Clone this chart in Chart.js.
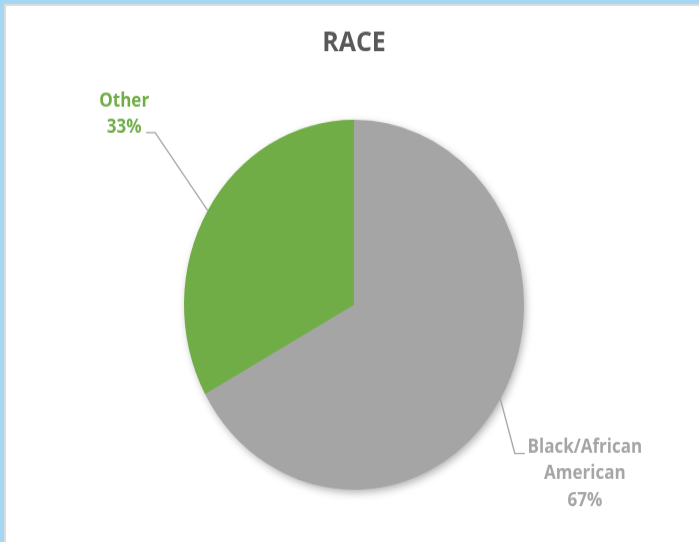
<!DOCTYPE html>
<html>
<head>
<meta charset="utf-8">
<script src="https://cdn.jsdelivr.net/npm/chart.js@4"></script>
<style>
    body { margin: 0; background: #fff; }
    #frame {
        position: absolute; left: 0; top: 0; width: 699px; height: 542px;
        box-sizing: border-box;
        border-top: 4px solid #a3d8f2; border-left: 4px solid #a3d8f2;
    }
    #frame div {
        width: 100%; height: 100%; box-sizing: border-box;
        border-top: 2px solid #dcdcdc; border-left: 2px solid #dcdcdc;
    }
    /* the picture is a little taller than wide, so stretch the whole chart */
    #wrap {
        position: absolute; left: 0; top: 0; width: 699px; height: 498px;
        transform: scaleY(1.0884); transform-origin: 0 0;
    }
</style>
</head>
<body>
<div id="frame"><div></div></div>
<div id="wrap"><canvas id="raceChart"></canvas></div>
<script>
const categories = ['Black/African American', 'Other'];
const values = [67, 33];
const colors = ['#a5a5a5', '#70ad47'];
const titleText = 'RACE';

// soft shadow under the whole pie
const pieShadow = {
    id: 'pieShadow',
    beforeDatasetsDraw(chart) {
        const arc = chart.getDatasetMeta(0).data[0];
        if (!arc) return;
        const ctx = chart.ctx;
        ctx.save();
        ctx.shadowColor = 'rgba(0,0,0,0.35)';
        ctx.shadowBlur = 9;
        ctx.shadowOffsetX = 2;
        ctx.shadowOffsetY = 3;
        ctx.fillStyle = '#a5a5a5';
        ctx.beginPath();
        ctx.arc(arc.x, arc.y, arc.outerRadius - 1, 0, Math.PI * 2);
        ctx.fill();
        ctx.restore();
    }
};

// outside labels with leader lines
const sliceLabels = {
    id: 'sliceLabels',
    afterDatasetsDraw(chart, args, opts) {
        const ctx = chart.ctx;
        const meta = chart.getDatasetMeta(0);
        const total = values.reduce((a, b) => a + b, 0);
        meta.data.forEach((arc, i) => {
            const p = opts.place[i];
            const mid = (arc.startAngle + arc.endAngle) / 2;
            const ax = arc.x + Math.cos(mid) * arc.outerRadius;
            const ay = arc.y + Math.sin(mid) * arc.outerRadius;
            const ex = ax + p.elbow[0], ey = ay + p.elbow[1];
            const lx = ex + p.tail, ly = ey;

            ctx.save();
            ctx.strokeStyle = '#a6a6a6';
            ctx.lineWidth = 1.3;
            ctx.beginPath();
            ctx.moveTo(ax, ay);
            ctx.lineTo(ex, ey);
            ctx.lineTo(lx, ly);
            ctx.stroke();

            const lines = categories[i].split(' ');
            lines.push(Math.round(values[i] / total * 100) + '%');
            ctx.fillStyle = colors[i];
            ctx.font = 'bold 17px "Open Sans"';
            ctx.textAlign = 'center';
            ctx.textBaseline = 'middle';
            const lh = 24.5;
            const cx = lx + p.text[0];
            const cy = ly + p.text[1] - (lines.length - 1) * lh / 2;
            lines.forEach((t, k) => ctx.fillText(t, cx, cy + k * lh));
            ctx.restore();
        });
    }
};

new Chart(document.getElementById('raceChart'), {
    type: 'pie',
    data: {
        labels: categories,
        datasets: [{
            data: values,
            backgroundColor: colors,
            borderWidth: 0
        }]
    },
    options: {
        responsive: true,
        maintainAspectRatio: false,
        animation: false,
        layout: { padding: { left: 184, right: 175, top: 10, bottom: 48 } },
        plugins: {
            legend: { display: false },
            tooltip: { enabled: false },
            title: {
                display: true,
                text: titleText,
                color: '#595959',
                font: { family: '"Open Sans"', size: 25, weight: 'bold' },
                padding: { top: 15, bottom: 55 }
            },
            sliceLabels: {
                place: [
                    { elbow: [14.5, 50], tail: 10, text: [60, 19] },
                    { elbow: [-52.5, -71.5], tail: -9, text: [-22, -17] }
                ]
            }
        }
    },
    plugins: [pieShadow, sliceLabels]
});
</script>
</body>
</html>
